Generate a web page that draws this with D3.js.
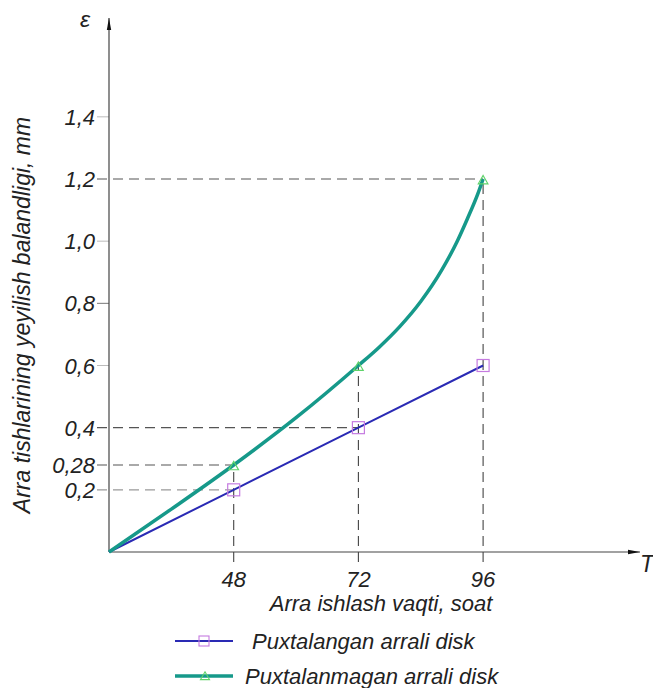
<!DOCTYPE html>
<html>
<head>
<meta charset="utf-8">
<script src="https://cdn.jsdelivr.net/npm/d3@7"></script>
<style>
  body { margin: 0; background: #fff; }
  text { font-family: "Liberation Sans", Arial, sans-serif; font-style: italic; fill: #222; }
</style>
</head>
<body>
<div id="chart"></div>
<script>
// values
const xTicks = [48, 72, 96];
const yTicks = [0.2, 0.28, 0.4, 0.6, 0.8, 1.0, 1.2, 1.4];
const yTickLabels = ["0,2", "0,28", "0,4", "0,6", "0,8", "1,0", "1,2", "1,4"];

const hardT = [0, 48, 72, 96];
const hardE = [0, 0.2, 0.4, 0.6];

const plainT = [0, 24, 48, 60, 72, 76, 80, 84, 88, 91, 93, 95, 96];
const plainE = [0, 0.138, 0.28, 0.432, 0.6, 0.659, 0.726, 0.806, 0.906, 0.999, 1.073, 1.153, 1.2];
const plainMarkT = [48, 72, 96];
const plainMarkE = [0.28, 0.6, 1.2];

// dashed reading lines: [t, e]
const hGuides = [[48, 0.2], [48, 0.28], [72, 0.4], [96, 1.2]];
const vGuides = [[48, 0.28], [72, 0.6], [96, 1.2]];

const seriesNames = ["Puxtalangan arrali disk", "Puxtalanmagan arrali disk"];

const width = 653, height = 688;
const x0 = 109, step = 124.7;
const yBase = 552, yTop = 179;

const x = d3.scaleLinear()
  .domain([0, 48, 72, 96])
  .range([x0, x0 + step, x0 + 2 * step, x0 + 3 * step]);
const y = d3.scaleLinear().domain([0, 1.2]).range([yBase, yTop]);

const svg = d3.select("#chart").append("svg")
  .attr("width", width)
  .attr("height", height);

const blue = "#2a2ab4", green = "#16998a";

// short ticks on y axis
svg.append("g").selectAll("line")
  .data(yTicks.filter(v => !hGuides.some(g => g[1] === v)))
  .enter().append("line")
  .attr("x1", x0 - 12).attr("x2", x0)
  .attr("y1", d => y(d)).attr("y2", d => y(d))
  .attr("stroke", d => d === 0.8 ? "#777" : "#bbb")
  .attr("stroke-width", 1);

// dashed guides
svg.append("g").selectAll("line")
  .data(hGuides)
  .enter().append("line")
  .attr("x1", x0 - 12).attr("x2", d => x(d[0]))
  .attr("y1", d => y(d[1])).attr("y2", d => y(d[1]))
  .attr("stroke", d => d[1] === 0.2 ? "#999" : "#555")
  .attr("stroke-width", 1.1)
  .attr("stroke-dasharray", "10,6");

svg.append("g").selectAll("line")
  .data(vGuides)
  .enter().append("line")
  .attr("x1", d => x(d[0])).attr("x2", d => x(d[0]))
  .attr("y1", yBase + 10).attr("y2", d => y(d[1]))
  .attr("stroke", "#444")
  .attr("stroke-width", 1.1)
  .attr("stroke-dasharray", "10,6");

// axes with arrows
svg.append("defs").append("marker")
  .attr("id", "arr")
  .attr("viewBox", "0 0 12 6")
  .attr("refX", 12).attr("refY", 3)
  .attr("markerWidth", 12).attr("markerHeight", 6)
  .attr("markerUnits", "userSpaceOnUse")
  .attr("orient", "auto")
  .append("path").attr("d", "M0,0.8L12,3L0,5.2Z").attr("fill", "#111");

svg.append("line")
  .attr("x1", x0).attr("x2", x0).attr("y1", yBase).attr("y2", 18)
  .attr("stroke", "#444").attr("stroke-width", 1.2)
  .attr("marker-end", "url(#arr)");
svg.append("line")
  .attr("x1", x0).attr("x2", 640).attr("y1", yBase).attr("y2", yBase)
  .attr("stroke", "#444").attr("stroke-width", 1.2)
  .attr("marker-end", "url(#arr)");

svg.append("text").attr("x", 80).attr("y", 27).attr("font-size", 23).text("ε");
svg.append("text").attr("x", 640).attr("y", 572).attr("font-size", 23).text("T");

// tick labels
svg.append("g").selectAll("text")
  .data(yTicks)
  .enter().append("text")
  .attr("x", 95).attr("y", d => y(d) + 8)
  .attr("text-anchor", "end")
  .attr("font-size", 22)
  .text((d, i) => yTickLabels[i]);

svg.append("g").selectAll("text")
  .data(xTicks)
  .enter().append("text")
  .attr("x", d => x(d)).attr("y", 587)
  .attr("text-anchor", "middle")
  .attr("font-size", 22)
  .text(d => d);

svg.append("text")
  .attr("x", 381).attr("y", 611)
  .attr("text-anchor", "middle")
  .attr("font-size", 22)
  .text("Arra ishlash vaqti, soat");

svg.append("text")
  .attr("transform", "translate(30,315) rotate(-90)")
  .attr("text-anchor", "middle")
  .attr("font-size", 23)
  .text("Arra tishlarining yeyilish balandligi, mm");

// series lines
const line = d3.line().x(d => x(d[0])).y(d => y(d[1]));

svg.append("path")
  .datum(hardT.map((t, i) => [t, hardE[i]]))
  .attr("d", line)
  .attr("fill", "none").attr("stroke", blue).attr("stroke-width", 2);

svg.append("path")
  .datum(plainT.map((t, i) => [t, plainE[i]]))
  .attr("d", line.curve(d3.curveMonotoneX))
  .attr("fill", "none").attr("stroke", green).attr("stroke-width", 3.5);

// markers
const sq = 12;
svg.append("g").selectAll("rect")
  .data(hardT.slice(1).map((t, i) => [t, hardE[i + 1]]))
  .enter().append("rect")
  .attr("x", d => x(d[0]) - sq / 2).attr("y", d => y(d[1]) - sq / 2)
  .attr("width", sq).attr("height", sq)
  .attr("fill", "none").attr("stroke", "#c57be0").attr("stroke-width", 1.2);

const tri = d3.symbol().type(d3.symbolTriangle).size(40);
svg.append("g").selectAll("path")
  .data(plainMarkT.map((t, i) => [t, plainMarkE[i]]))
  .enter().append("path")
  .attr("transform", d => `translate(${x(d[0])},${y(d[1]) + 2})`)
  .attr("d", tri)
  .attr("fill", "none").attr("stroke", "#5fd36a").attr("stroke-width", 1.2);

// legend
const legend = svg.append("g");
const legY = [641, 676];
const legColors = [blue, green];
const legWidths = [2, 3.5];
legend.selectAll("line")
  .data(seriesNames)
  .enter().append("line")
  .attr("x1", 175).attr("x2", 233)
  .attr("y1", (d, i) => legY[i]).attr("y2", (d, i) => legY[i])
  .attr("stroke", (d, i) => legColors[i])
  .attr("stroke-width", (d, i) => legWidths[i]);

legend.append("rect")
  .attr("x", 204 - 5).attr("y", legY[0] - 5)
  .attr("width", 10).attr("height", 10)
  .attr("fill", "none").attr("stroke", "#c57be0").attr("stroke-width", 1.1);
legend.append("path")
  .attr("transform", `translate(205,${legY[1] + 1})`)
  .attr("d", d3.symbol().type(d3.symbolTriangle).size(36))
  .attr("fill", "none").attr("stroke", "#5fd36a").attr("stroke-width", 1.1);

legend.selectAll("text")
  .data(seriesNames)
  .enter().append("text")
  .attr("x", (d, i) => i === 0 ? 252 : 245)
  .attr("y", (d, i) => legY[i] + 8)
  .attr("font-size", 22)
  .text(d => d);
</script>
</body>
</html>
